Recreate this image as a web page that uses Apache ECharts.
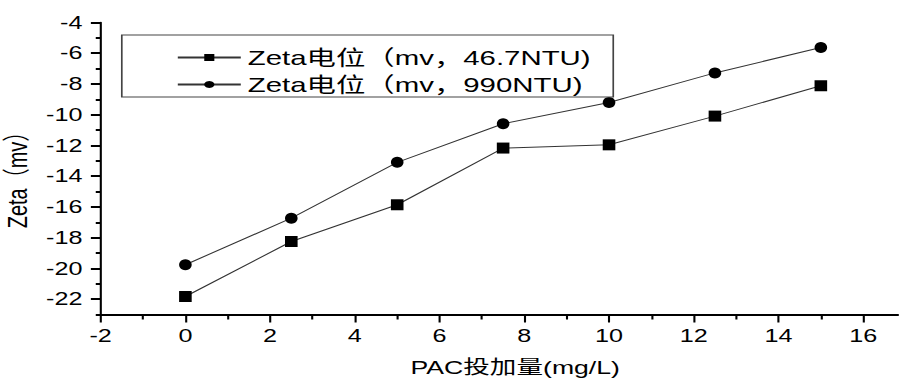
<!DOCTYPE html>
<html>
<head>
<meta charset="utf-8">
<script src="https://cdn.jsdelivr.net/npm/echarts@6/dist/echarts.min.js"></script>
<style>
  html, body { margin: 0; padding: 0; background: #fff; overflow: hidden; }
  /* the figure is laid out narrow and stretched horizontally */
  #chart { width: 642.14px; height: 378px; transform: scaleX(1.4); transform-origin: 0 0; }
</style>
</head>
<body>
<div id="chart"></div>
<script>
// PAC dosage (mg/L)
const dosage = [0, 2.5, 5, 7.5, 10, 12.5, 15];
// Zeta potential (mV) at two turbidities
const zetaLow = [-21.83, -18.25, -15.86, -12.17, -11.96, -10.09, -8.12];
const zetaHigh = [-19.76, -16.73, -13.10, -10.59, -9.20, -7.28, -5.63];
const seriesNames = ['Zeta电位（mv，46.7NTU)', 'Zeta电位（mv，990NTU)'];
// tick values
const xLabelTicks = [-2, 0, 2, 4, 6, 8, 10, 12, 14, 16];
const yMajorTicks = [-22, -20, -18, -16, -14, -12, -10, -8, -6, -4];
const yMinorTicks = [-23, -21, -19, -17, -15, -13, -11, -9, -7, -5];

const FONT = '"Liberation Sans", Arial, "Noto Sans CJK SC", sans-serif';
const pairs = (xs, ys) => xs.map((x, i) => [x, ys[i]]);

const chart = echarts.init(document.getElementById('chart'), null, { renderer: 'svg' });

const lineStyle = { color: '#333', width: 1 };

chart.setOption({
  animation: false,
  backgroundColor: '#fff',
  textStyle: { fontFamily: FONT, color: '#000' },
  grid: {
    left: 71.9, right: -35.1, top: 22.5, bottom: 63.5,
    containLabel: false, outerBoundsMode: 'none'
  },
  legend: {
    orient: 'vertical',
    left: 87,
    top: 35,
    padding: [12, 16, 2, 39],
    itemWidth: 45,
    itemHeight: 9,
    itemGap: 6,
    borderColor: '#444',
    borderWidth: 1.2,
    backgroundColor: '#fff',
    textStyle: { fontFamily: FONT, fontSize: 21, color: '#000' },
    data: seriesNames
  },
  xAxis: {
    type: 'value',
    min: -2,
    max: 18,
    interval: 2,
    name: 'PAC投加量(mg/L)',
    nameLocation: 'middle',
    nameGap: 43,
    nameTextStyle: { fontFamily: FONT, fontSize: 19, color: '#000', padding: [0, 13, 0, 0] },
    axisLine: { onZero: false, lineStyle: { color: '#000', width: 2 } },
    axisTick: { inside: false, length: 8, lineStyle: { color: '#000', width: 1.5 } },
    minorTick: { show: true, splitNumber: 2, length: 5, lineStyle: { color: '#000', width: 1.5 } },
    axisLabel: { margin: 12, customValues: xLabelTicks, fontFamily: FONT, fontSize: 18, color: '#000' },
    splitLine: { show: false }
  },
  yAxis: [
    {
      type: 'value',
      min: -23,
      max: -4,
      name: 'Zeta（mv）',
      nameLocation: 'middle',
      nameRotate: 90,
      nameGap: 46,
      nameTextStyle: { fontFamily: FONT, fontSize: 20, color: '#000', padding: [0, 13, 0, 0] },
      axisLine: { onZero: false, lineStyle: { color: '#000', width: 1.5 } },
      axisTick: { length: 7, customValues: yMajorTicks, lineStyle: { color: '#000', width: 2 } },
      axisLabel: { margin: 13, customValues: yMajorTicks, fontFamily: FONT, fontSize: 18, color: '#000' },
      splitLine: { show: false }
    },
    {
      // minor ticks between the labelled values
      type: 'value',
      position: 'left',
      min: -23,
      max: -4,
      axisLine: { show: false, onZero: false },
      axisTick: { show: true, length: 3.5, customValues: yMinorTicks, lineStyle: { color: '#000', width: 2 } },
      axisLabel: { show: false },
      splitLine: { show: false }
    }
  ],
  series: [
    {
      name: seriesNames[0],
      type: 'line',
      data: pairs(dosage, zetaLow),
      symbol: 'rect',
      symbolSize: [9, 11],
      showAllSymbol: true,
      lineStyle: lineStyle,
      itemStyle: { color: '#000' }
    },
    {
      name: seriesNames[1],
      type: 'line',
      data: pairs(dosage, zetaHigh),
      symbol: 'circle',
      symbolSize: [9, 11],
      showAllSymbol: true,
      lineStyle: lineStyle,
      itemStyle: { color: '#000' }
    }
  ]
});
</script>
</body>
</html>
